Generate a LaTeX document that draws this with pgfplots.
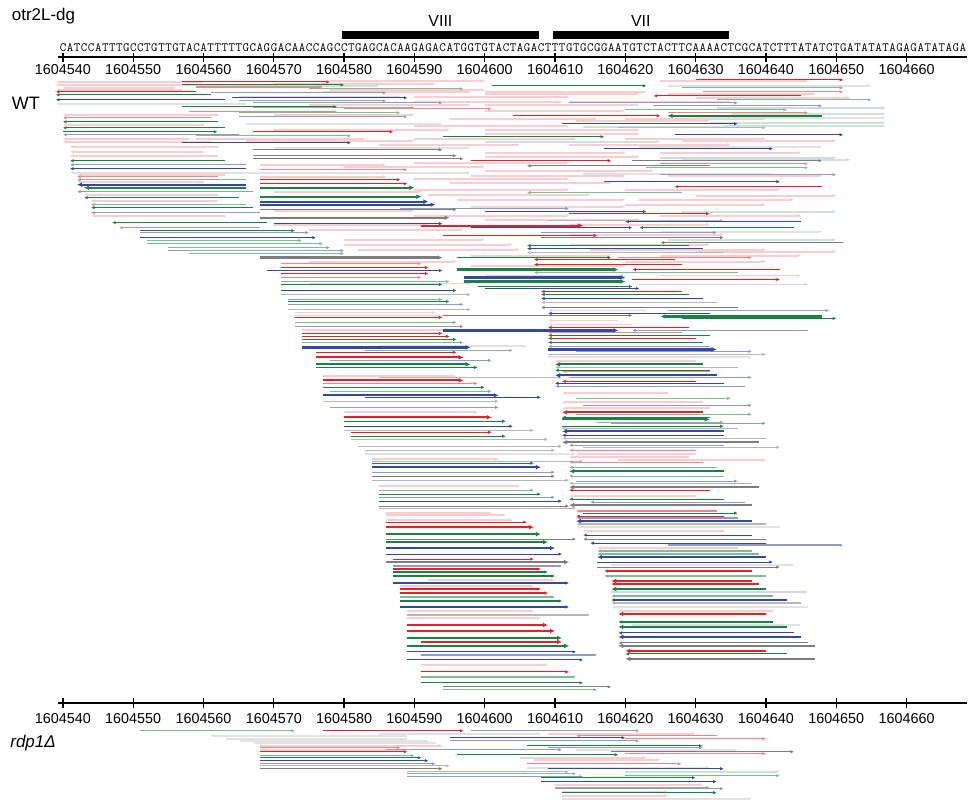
\documentclass[border=0pt]{standalone}
\usepackage{pgfplots}
\usepackage{pgfplotstable}
\pgfplotsset{compat=1.18}
\usetikzlibrary{arrows.meta}
\usepackage{fontspec}
\setmainfont{Liberation Sans}
\definecolor{cR}{RGB}{230,32,40}
\definecolor{cG}{RGB}{24,130,66}
\definecolor{cB}{RGB}{52,72,160}
\definecolor{cK}{RGB}{125,125,125}
\newcommand\prep[1]{%
  \pgfplotstablecreatecol[create col/assign/.code={%
    \getthisrow{s}\vs \getthisrow{e}\ve \getthisrow{d}\vd
    \edef\entry{\the\numexpr\ifnum\vd>0 \vs\else\ve\fi-1604540\relax}%
    \pgfkeyslet{/pgfplots/table/create col/next content}\entry}]{qx}{#1}%
  \pgfplotstablecreatecol[create col/assign/.code={%
    \getthisrow{s}\vs \getthisrow{e}\ve \getthisrow{d}\vd
    \edef\entry{\the\numexpr(\ve-\vs)*\vd\relax}%
    \pgfkeyslet{/pgfplots/table/create col/next content}\entry}]{qu}{#1}%
}
\def\seqloop#1{\ifx\relax#1\else\makebox[7.042bp][c]{#1}\expandafter\seqloop\fi}
\pgfplotsset{
  rd/.style={quiver={u=\thisrow{qu},v=0}},
  lvS/.style={rd,color=#1,line width=2.2bp,-{Latex[length=5bp,width=4.8bp]}},
  lvN/.style={rd,color=#1,line width=1.1bp,-{Latex[length=3.6bp,width=3.4bp]}},
  lvL/.style={rd,color=#1!55,line width=1.3bp,-{Latex[length=3.6bp,width=3.4bp]}},
  lvP/.style={rd,color=#1!22,line width=1.9bp,-{Latex[length=3.6bp,width=3.6bp]}},
}
\begin{document}
\pgfplotstableread{
s e y d
1604539 1604566 104 -1
1604626 1604655 86 1
1604566 1604594 124 1
1604541 1604570 173 -1
1604570 1604598 173 1
1604614 1604641 174 1
1604585 1604606 347 1
1604583 1604613 455 1
1604609 1604638 358 1
1604613 1604642 528 -1
1604618 1604644 566 1
1604618 1604646 608 -1
1604621 1604645 626 1
1604630 1604657 118 1
1604570 1604598 148 1
1604622 1604648 147 1
1604625 1604648 232 1
1604585 1604608 735 1
1604561 1604589 737 -1
1604563 1604589 740 -1
1604565 1604592 742 -1
1604567 1604593 744 -1
1604613 1604636 751 1
1604606 1604632 769 1
1604611 1604638 800 1
}\tKP
\pgfplotstableread{
s e y d
1604539 1604560 82 -1
1604539 1604562 85 -1
1604540 1604556 88 -1
1604539 1604557 90 -1
1604540 1604562 115 -1
1604540 1604560 125 -1
1604540 1604558 139 -1
1604540 1604561 142 -1
1604542 1604563 175 -1
1604542 1604560 182 -1
1604543 1604562 195 -1
1604544 1604562 201 -1
1604544 1604563 216 -1
1604600 1604623 92 1
1604577 1604598 92 1
1604541 1604562 147 -1
1604541 1604560 152 -1
1604541 1604562 156 -1
1604568 1604586 165 1
1604568 1604586 177 1
1604570 1604591 192 1
1604573 1604593 313 1
1604573 1604595 316 1
1604574 1604595 331 1
1604577 1604596 377 1
1604580 1604599 413 1
1604584 1604602 460 1
1604585 1604605 487 1
1604586 1604601 514 1
1604586 1604603 516 1
1604586 1604604 521 1
1604592 1604610 581 1
1604588 1604607 587 1
1604589 1604607 612 1
1604589 1604608 619 1
1604591 1604609 666 1
1604609 1604623 311 -1
1604609 1604619 321 -1
1604609 1604621 325 -1
1604610 1604630 362 -1
1604611 1604626 394 -1
1604611 1604631 403 -1
1604611 1604632 409 -1
1604613 1604630 455 -1
1604612 1604629 458 -1
1604619 1604640 461 1
1604612 1604630 497 -1
1604614 1604634 532 -1
1604616 1604636 549 -1
1604619 1604641 612 -1
1604578 1604600 81 1
1604625 1604646 81 1
1604570 1604593 84 1
1604578 1604600 90 1
1604600 1604622 94 1
1604626 1604647 94 1
1604630 1604652 98 1
1604565 1604588 97 1
1604590 1604612 97 1
1604590 1604611 102 1
1604612 1604635 102 1
1604575 1604598 105 1
1604600 1604622 105 1
1604600 1604620 111 1
1604570 1604590 115 1
1604595 1604616 119 1
1604620 1604640 119 1
1604613 1604632 121 1
1604590 1604612 126 1
1604570 1604595 130 1
1604600 1604622 130 1
1604600 1604622 134 1
1604559 1604583 139 1
1604590 1604613 139 1
1604620 1604640 139 1
1604628 1604650 141 1
1604566 1604590 141 1
1604585 1604605 145 1
1604612 1604635 145 1
1604600 1604620 153 1
1604625 1604645 153 1
1604600 1604622 157 1
1604590 1604612 163 1
1604580 1604600 167 1
1604600 1604624 171 1
1604598 1604620 176 1
1604626 1604648 176 1
1604590 1604612 179 1
1604595 1604618 183 1
1604590 1604612 190 1
1604620 1604642 190 1
1604592 1604615 195 1
1604630 1604650 196 1
1604596 1604620 200 1
1604622 1604644 200 1
1604598 1604620 207 1
1604620 1604640 205 1
1604570 1604590 211 1
1604590 1604612 216 1
1604625 1604645 216 1
1604600 1604622 220 1
1604570 1604592 225 1
1604612 1604632 225 1
1604575 1604597 230 1
1604612 1604634 235 1
1604580 1604600 240 1
1604580 1604604 245 1
1604612 1604632 245 1
1604582 1604605 250 1
1604615 1604640 250 1
1604630 1604650 252 1
1604598 1604618 256 1
1604625 1604645 256 1
1604575 1604596 262 1
1604620 1604640 262 1
1604598 1604620 266 1
1604600 1604620 276 1
1604625 1604645 276 1
1604575 1604598 284 1
1604609 1604630 735 1
1604568 1604594 747 1
1604568 1604589 751 1
1604605 1604623 759 1
1604607 1604625 761 1
1604610 1604631 786 1
1604611 1604626 793 1
1604611 1604626 797 1
}\tRP
\pgfplotstableread{
s e y d
1604614 1604640 127 1
1604634 1604657 126 1
1604632 1604657 123 1
1604635 1604657 114 1
1604560 1604585 86 1
1604600 1604625 142 1
1604628 1604652 160 1
1604628 1604650 212 1
1604626 1604650 240 1
1604620 1604642 773 1
}\tGP
\pgfplotstableread{
s e y d
1604633 1604657 108 1
1604625 1604650 158 1
1604622 1604646 285 1
1604618 1604646 593 1
}\tBP
\pgfplotstableread{
s e y d
1604619 1604640 128 1
1604609 1604634 221 1
1604606 1604634 253 -1
1604571 1604598 295 1
1604572 1604598 310 1
1604585 1604611 378 1
1604577 1604602 402 1
1604580 1604607 431 1
1604581 1604609 440 1
1604582 1604611 447 1
1604583 1604610 451 1
1604584 1604614 462 1
1604584 1604612 481 1
1604585 1604613 509 1
1604589 1604615 616 1
1604608 1604633 303 -1
1604609 1604640 355 1
1604610 1604636 368 -1
1604611 1604636 429 -1
1604611 1604640 439 -1
1604614 1604642 448 1
1604612 1604638 484 -1
1604613 1604640 525 -1
1604618 1604645 604 -1
1604568 1604595 767 1
1604589 1604612 773 1
}\tKL
\pgfplotstableread{
s e y d
1604559 1604577 87 1
1604558 1604579 112 1
1604631 1604651 92 1
1604626 1604646 113 1
1604580 1604601 109 1
1604540 1604561 118 -1
1604625 1604646 164 1
1604568 1604589 170 1
1604542 1604562 177 -1
1604548 1604568 228 -1
1604619 1604638 258 1
1604571 1604591 264 1
1604571 1604591 278 1
1604577 1604599 384 1
1604609 1604628 333 -1
1604611 1604632 372 -1
1604612 1604630 451 -1
1604612 1604631 463 -1
1604613 1604633 512 -1
1604613 1604633 737 -1
1604620 1604640 740 1
1604568 1604588 749 1
1604620 1604640 755 1
1604606 1604628 765 1
}\tRL
\pgfplotstableread{
s e y d
1604575 1604597 89 1
1604628 1604651 88 1
1604633 1604655 100 1
1604620 1604643 110 1
1604565 1604588 113 1
1604565 1604586 101 1
1604567 1604590 108 1
1604559 1604581 136 1
1604623 1604646 168 1
1604542 1604566 180 -1
1604606 1604628 193 -1
1604544 1604566 205 -1
1604552 1604574 241 1
1604552 1604577 244 1
1604555 1604578 248 1
1604558 1604580 254 1
1604607 1604636 273 -1
1604571 1604595 282 1
1604572 1604594 300 1
1604573 1604596 323 1
1604574 1604597 343 1
1604583 1604604 351 1
1604578 1604601 392 1
1604585 1604607 491 1
1604588 1604610 598 1
1604591 1604613 678 1
1604594 1604616 691 1
1604626 1604649 311 1
1604613 1604635 399 1
1604613 1604638 415 1
1604616 1604634 423 1
1604612 1604633 468 -1
1604612 1604634 477 -1
1604616 1604638 552 -1
1604616 1604639 555 -1
1604617 1604640 577 -1
1604618 1604641 597 -1
1604551 1604573 732 1
1604568 1604590 757 1
1604589 1604613 775 1
1604620 1604642 777 1
1604610 1604632 789 1
}\tGL
\pgfplotstableread{
s e y d
1604567 1604594 103 1
1604565 1604589 117 1
1604612 1604636 103 1
1604624 1604648 106 1
1604561 1604586 93 1
1604540 1604565 135 -1
1604541 1604566 165 -1
1604625 1604650 175 1
1604542 1604567 192 -1
1604544 1604568 213 -1
1604588 1604612 209 1
1604551 1604575 233 1
1604608 1604633 233 1
1604555 1604580 251 1
1604572 1604597 305 1
1604573 1604597 327 1
1604578 1604601 361 1
1604578 1604602 408 1
1604584 1604610 473 1
1604585 1604610 498 1
1604587 1604611 567 1
1604591 1604616 656 1
1604621 1604646 331 -1
1604609 1604632 347 -1
1604613 1604638 352 1
1604612 1604638 378 1
1604610 1604637 387 -1
1604614 1604638 406 1
1604618 1604640 424 1
1604612 1604634 446 -1
1604613 1604636 482 1
1604615 1604637 503 -1
1604613 1604636 519 -1
1604626 1604651 546 1
1604598 1604622 732 1
1604595 1604622 742 1
1604609 1604631 749 1
1604586 1604611 751 1
1604568 1604593 765 1
1604589 1604614 778 1
1604610 1604634 790 1
}\tBL
\pgfplotstableread{
s e y d
1604567 1604594 150 1
1604567 1604596 156 1
1604567 1604597 159 1
1604621 1604648 161 1
1604606 1604632 166 -1
1604568 1604596 210 1
1604608 1604634 238 1
1604625 1604651 243 -1
1604594 1604621 316 1
1604584 1604610 477 1
1604585 1604612 507 1
1604586 1604613 540 1
1604594 1604618 688 1
1604608 1604636 308 -1
1604614 1604640 540 -1
1604616 1604642 568 1
1604619 1604646 644 -1
1604618 1604644 753 1
1604568 1604594 770 1
}\tKN
\pgfplotstableread{
s e y d
1604557 1604578 82 1
1604539 1604559 92 -1
1604630 1604651 80 1
1604624 1604645 96 -1
1604604 1604625 116 1
1604567 1604587 132 1
1604598 1604618 161 1
1604568 1604588 180 1
1604568 1604589 184 1
1604627 1604648 187 -1
1604612 1604632 214 1
1604594 1604616 236 1
1604607 1604627 260 -1
1604607 1604628 265 -1
1604571 1604592 268 1
1604621 1604642 270 -1
1604571 1604592 274 1
1604621 1604642 280 1
1604573 1604594 318 1
1604574 1604594 334 1
1604574 1604595 337 1
1604576 1604596 353 1
1604581 1604601 433 1
1604608 1604628 292 -1
1604609 1604629 328 -1
1604609 1604630 339 -1
1604611 1604630 382 -1
1604612 1604632 491 -1
1604586 1604606 523 1
1604587 1604607 560 1
1604587 1604608 570 1
1604588 1604608 590 1
1604588 1604609 594 1
1604591 1604612 673 1
1604613 1604634 517 -1
1604617 1604638 572 -1
1604618 1604639 585 -1
1604577 1604597 732 1
1604568 1604589 753 1
}\tRN
\pgfplotstableread{
s e y d
1604557 1604580 85 1
1604539 1604561 95 -1
1604557 1604579 107 1
1604601 1604623 86 1
1604540 1604562 122 -1
1604540 1604563 128 -1
1604540 1604562 132 1
1604594 1604617 137 1
1604541 1604563 161 -1
1604543 1604565 198 -1
1604544 1604567 208 -1
1604547 1604569 223 -1
1604622 1604644 228 -1
1604551 1604573 231 1
1604606 1604629 246 -1
1604596 1604618 258 1
1604571 1604594 285 1
1604599 1604621 287 1
1604572 1604595 302 1
1604574 1604596 340 1
1604576 1604599 368 1
1604577 1604600 388 1
1604580 1604603 422 1
1604581 1604603 437 1
1604584 1604607 464 1
1604585 1604608 495 1
1604587 1604609 573 1
1604587 1604610 577 1
1604588 1604611 602 1
1604591 1604614 684 1
1604608 1604629 295 -1
1604628 1604650 319 1
1604609 1604632 336 -1
1604609 1604631 343 -1
1604610 1604632 371 -1
1604611 1604632 418 -1
1604611 1604634 427 1
1604612 1604634 500 -1
1604614 1604636 514 1
1604619 1604641 623 -1
1604620 1604643 655 -1
1604606 1604631 747 1
1604596 1604619 756 1
1604568 1604591 759 1
1604608 1604630 779 1
1604611 1604633 794 1
}\tGN
\pgfplotstableread{
s e y d
1604539 1604563 100 -1
1604564 1604589 98 1
1604611 1604636 124 1
1604627 1604651 135 1
1604617 1604641 149 1
1604557 1604581 143 1
1604541 1604566 169 -1
1604617 1604642 182 1
1604600 1604623 212 1
1604570 1604594 224 1
1604620 1604645 222 -1
1604598 1604621 228 1
1604551 1604576 238 1
1604606 1604631 249 -1
1604569 1604594 271 1
1604571 1604596 291 1
1604600 1604622 289 1
1604583 1604608 398 1
1604580 1604604 427 1
1604585 1604611 502 1
1604586 1604611 555 1
1604587 1604612 584 1
1604588 1604612 608 1
1604589 1604613 653 1
1604589 1604614 661 1
1604608 1604631 299 -1
1604609 1604632 314 -1
1604610 1604634 384 -1
1604611 1604634 436 -1
1604614 1604638 536 -1
1604615 1604640 544 -1
1604616 1604641 563 1
1604618 1604643 601 -1
1604619 1604644 634 -1
1604595 1604620 739 1
1604568 1604592 762 1
1604609 1604634 770 1
1604608 1604633 783 1
}\tBN
\pgfplotstableread{
s e y d
1604568 1604595 218 1
1604568 1604594 258 1
1604611 1604639 443 -1
1604612 1604639 488 -1
1604586 1604612 563 1
1604612 1604638 506 -1
1604619 1604647 647 -1
1604620 1604647 660 -1
}\tKS
\pgfplotstableread{
s e y d
1604591 1604614 226 1
1604576 1604597 358 1
1604577 1604597 381 1
1604580 1604601 418 1
1604586 1604607 528 1
1604589 1604609 626 1
1604589 1604610 632 1
1604591 1604611 643 1
1604611 1604631 413 -1
1604618 1604638 582 -1
1604619 1604640 615 -1
1604620 1604640 652 -1
}\tRS
\pgfplotstableread{
s e y d
1604626 1604648 116 -1
1604543 1604566 188 -1
1604568 1604590 188 1
1604568 1604591 197 1
1604596 1604619 270 1
1604597 1604620 282 1
1604576 1604598 365 1
1604625 1604648 317 -1
1604610 1604631 365 -1
1604611 1604632 420 1
1604612 1604634 472 -1
1604586 1604608 535 1
1604586 1604609 543 1
1604589 1604611 639 1
1604589 1604612 647 1
1604618 1604640 590 -1
1604619 1604643 628 -1
}\tGS
\pgfplotstableread{
s e y d
1604542 1604566 185 -1
1604568 1604592 202 1
1604568 1604593 205 1
1604597 1604620 278 1
1604594 1604619 331 1
1604574 1604598 348 1
1604577 1604602 396 1
1604584 1604608 468 1
1604586 1604610 549 1
1604609 1604633 350 1
1604610 1604633 376 -1
1604611 1604634 432 -1
1604613 1604638 522 -1
1604616 1604640 558 -1
1604619 1604645 638 -1
}\tBS
\prep\tKP \prep\tRP \prep\tGP \prep\tBP
\prep\tKL \prep\tRL \prep\tGL \prep\tBL
\prep\tKN \prep\tRN \prep\tGN \prep\tBN
\prep\tKS \prep\tRS \prep\tGS \prep\tBS
\begin{tikzpicture}
\begin{axis}[
  scale only axis, width=968bp, height=803bp,
  xmin=-8.946, xmax=128.51, ymin=0, ymax=803, y dir=reverse,
  hide axis, clip=false,
]
\path (rel axis cs:0,0) rectangle (rel axis cs:1,1);
% reads, pale to strong
\addplot[lvP=cK] table[x=qx,y=y]{\tKP};
\addplot[lvP=cR] table[x=qx,y=y]{\tRP};
\addplot[lvP=cG] table[x=qx,y=y]{\tGP};
\addplot[lvP=cB] table[x=qx,y=y]{\tBP};
\addplot[lvL=cK] table[x=qx,y=y]{\tKL};
\addplot[lvL=cR] table[x=qx,y=y]{\tRL};
\addplot[lvL=cG] table[x=qx,y=y]{\tGL};
\addplot[lvL=cB] table[x=qx,y=y]{\tBL};
\addplot[lvN=cK] table[x=qx,y=y]{\tKN};
\addplot[lvN=cR] table[x=qx,y=y]{\tRN};
\addplot[lvN=cG] table[x=qx,y=y]{\tGN};
\addplot[lvN=cB] table[x=qx,y=y]{\tBN};
\addplot[lvS=cK] table[x=qx,y=y]{\tKS};
\addplot[lvS=cR] table[x=qx,y=y]{\tRS};
\addplot[lvS=cG] table[x=qx,y=y]{\tGS};
\addplot[lvS=cB] table[x=qx,y=y]{\tBS};
% region bars
\addplot[black, line width=8bp] coordinates {(39.7,35) (67.7,35)};
\addplot[black, line width=8bp] coordinates {(69.7,35) (94.7,35)};
\node[anchor=base, font=\fontsize{16bp}{16bp}\selectfont] at (axis cs:53.7,26.5) {VIII};
\node[anchor=base, font=\fontsize{16bp}{16bp}\selectfont] at (axis cs:82.2,26.5) {VII};
\node[anchor=base west, inner sep=0, font=\fontsize{17bp}{17bp}\selectfont] at (axis cs:-7.28,20.7) {otr2L-dg};
\node[anchor=base west, inner sep=0, font=\fontsize{18bp}{18bp}\selectfont] at (axis cs:-7.28,110) {WT};
\node[anchor=base west, inner sep=0, font=\fontsize{17bp}{17bp}\selectfont\itshape] at (axis cs:-7.5,749) {rdp1Δ};
% sequence
\node[anchor=base west, inner sep=0] at (axis cs:-0.5,52) {\ttfamily\fontsize{12.6bp}{12.6bp}\selectfont\seqloop CATCCATTTGCCTGTTGTACATTTTTGCAGGACAACCAGCCTGAGCACAAGAGACATGGTGTACTAGACTTTGTGCGGAATGTCTACTTCAAAACTCGCATCTTTATATCTGATATATAGAGATATAGA\relax};
% rulers
\draw[line width=2bp] (axis cs:-0.7,57.3) -- (axis cs:128.6,57.3);
\draw[line width=2bp] (axis cs:-0.7,704) -- (axis cs:128.6,704);
\pgfplotsinvokeforeach{0,10,...,120}{
  \draw[line width=1.3bp] (axis cs:#1,53.5) -- (axis cs:#1,62);
  \draw[line width=1.3bp] (axis cs:#1,699.5) -- (axis cs:#1,709);
  \node[anchor=base, inner sep=0, font=\fontsize{14.4bp}{14.4bp}\selectfont] at (axis cs:#1,74.8) {\the\numexpr1604540+#1\relax};
  \node[anchor=base, inner sep=0, font=\fontsize{14.4bp}{14.4bp}\selectfont] at (axis cs:#1,724.5) {\the\numexpr1604540+#1\relax};
}
\end{axis}
\end{tikzpicture}
\end{document}
